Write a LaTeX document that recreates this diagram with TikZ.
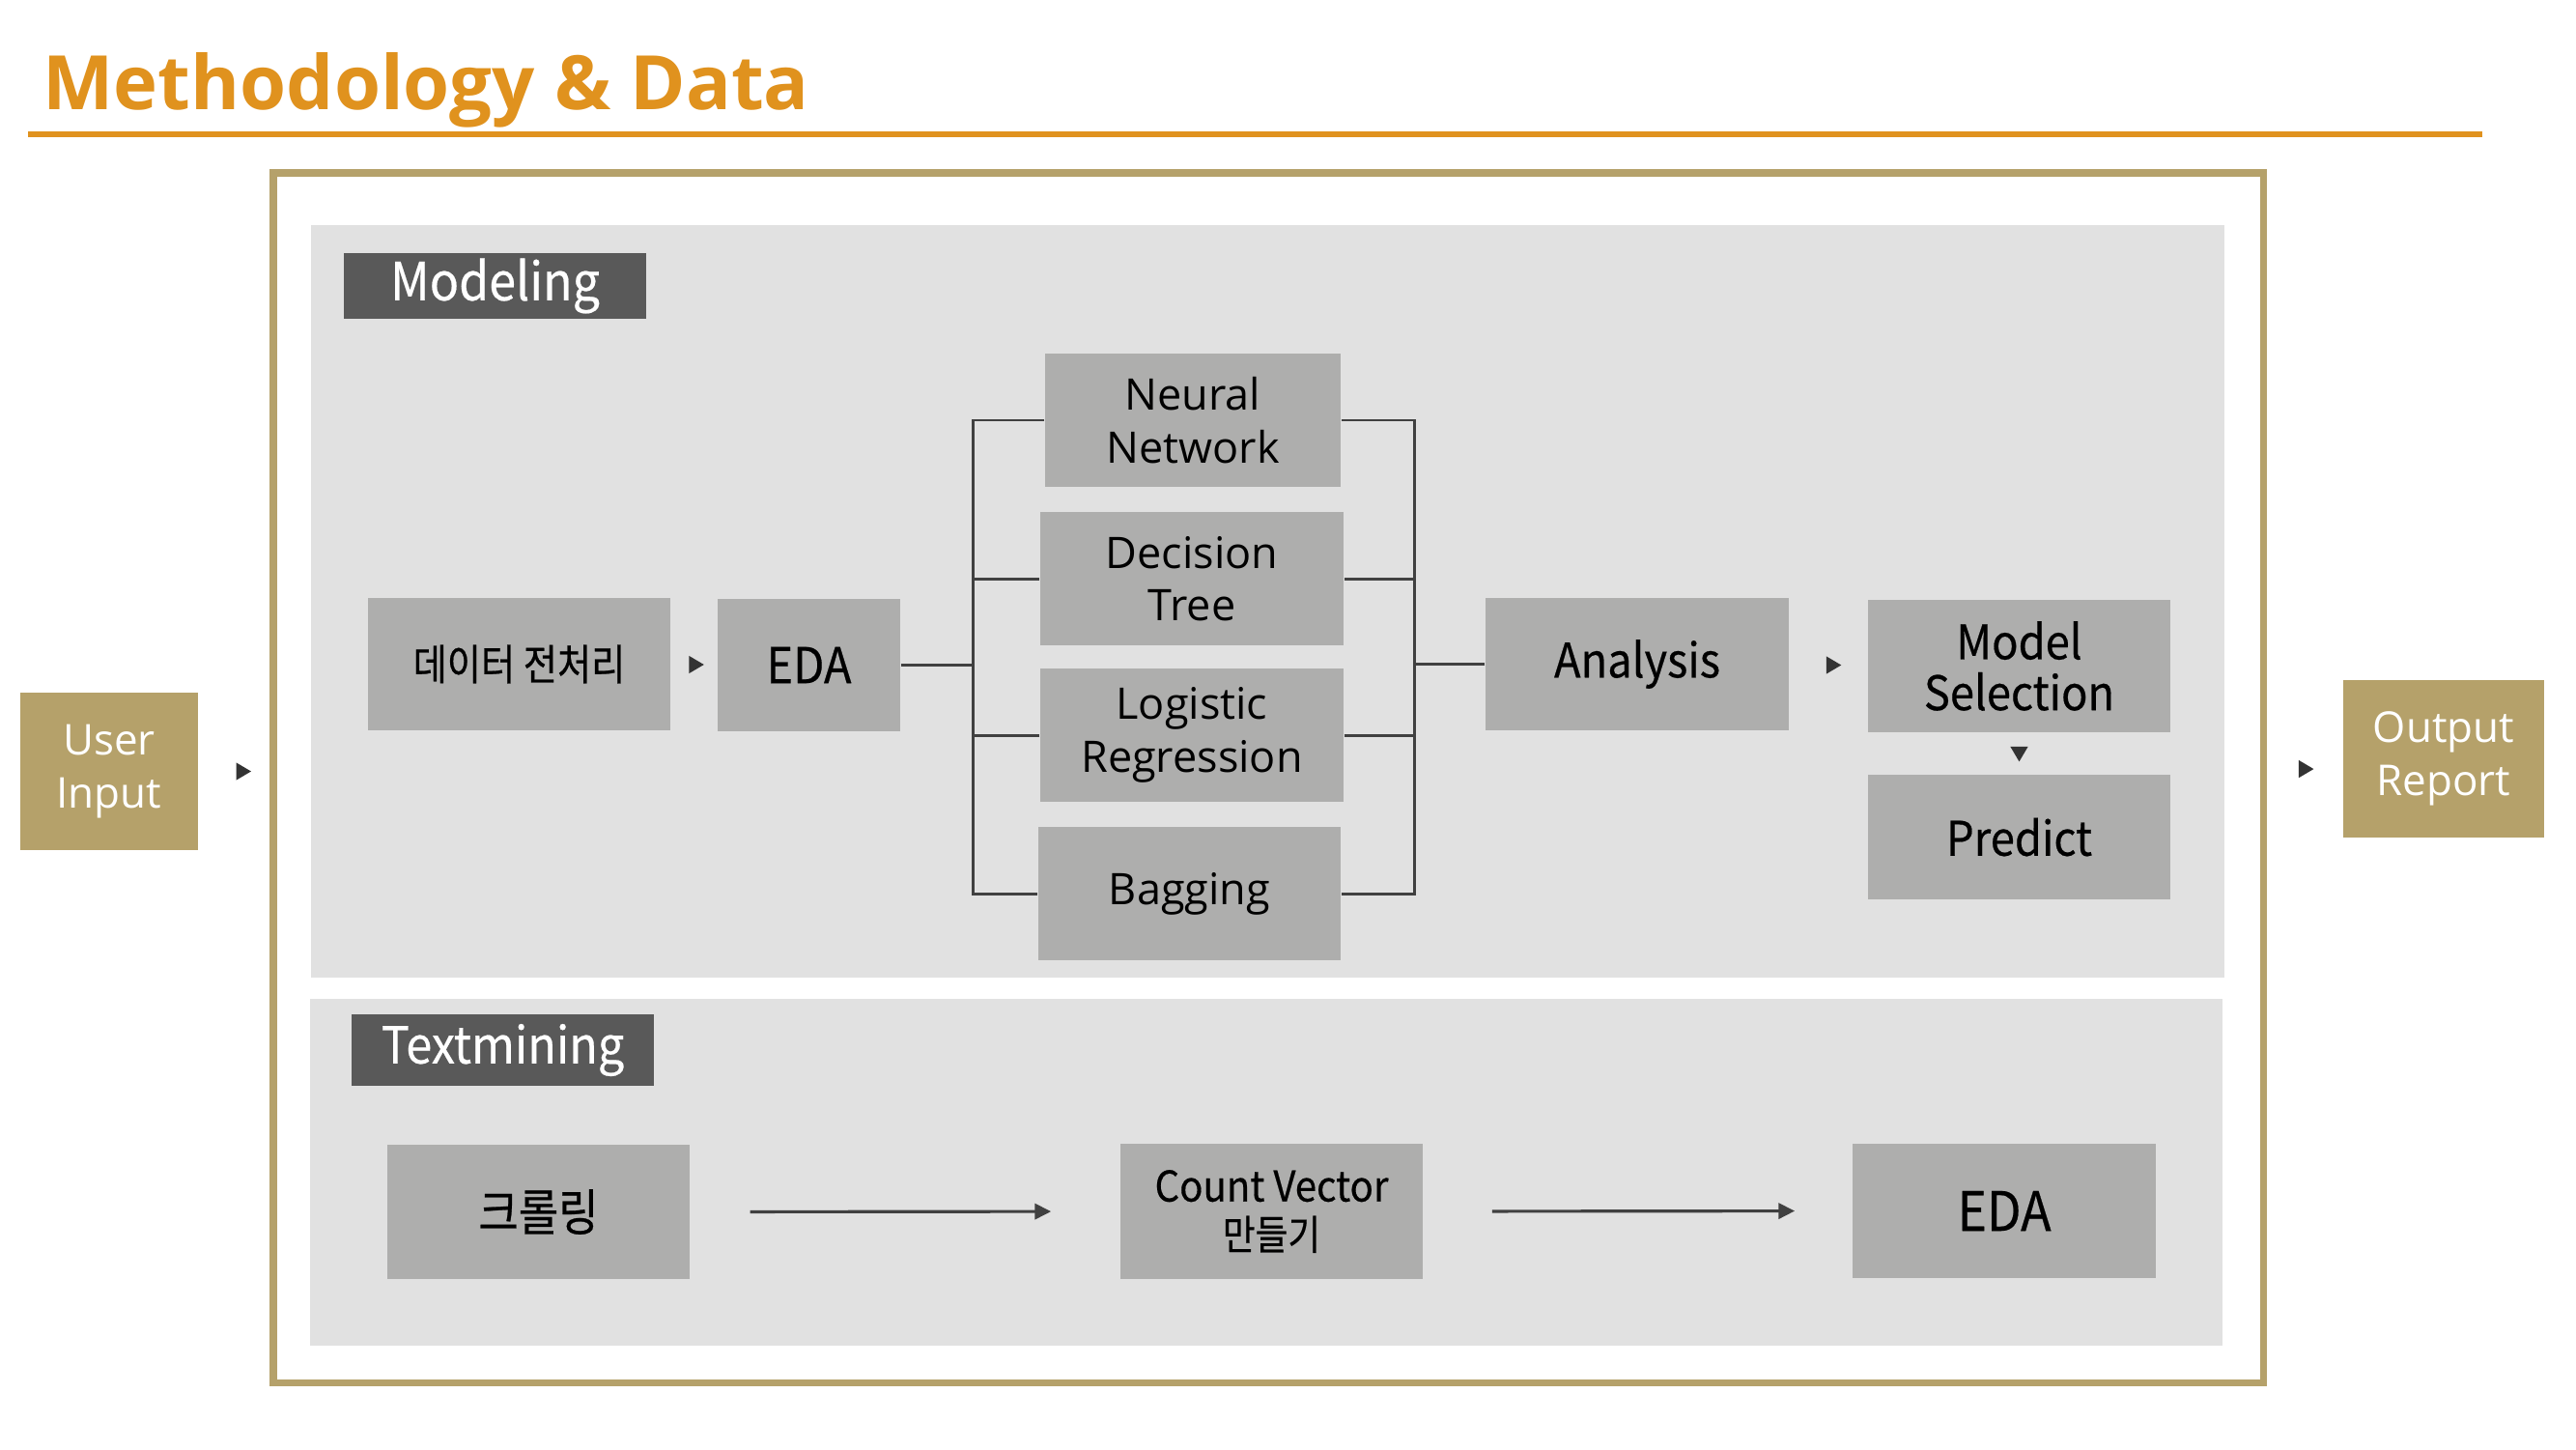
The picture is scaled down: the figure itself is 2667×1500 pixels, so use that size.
\documentclass[tikz,border=0pt]{standalone}
\usepackage{fontspec}
\setmainfont{Open Sans}
\newfontfamily\nsk[FakeStretch=0.92,FakeBold=0.4]{Noto Sans CJK KR}
\newfontfamily\kr[FakeStretch=0.87,FakeBold=0.5]{Noto Sans CJK KR}
\usetikzlibrary{arrows.meta,shapes.geometric,calc}
\definecolor{titleorange}{RGB}{224,146,30}
\definecolor{tan}{RGB}{181,161,106}
\definecolor{panelgray}{RGB}{225,225,225}
\definecolor{boxgray}{RGB}{174,174,173}
\definecolor{labeldark}{RGB}{89,89,89}
\definecolor{linegray}{RGB}{64,64,64}
\definecolor{trigray}{RGB}{51,51,51}
\tikzset{
  panel/.style={fill=panelgray, inner sep=0pt},
  grbox/.style={fill=boxgray, inner sep=0pt, align=center, text=black},
  tanbox/.style={fill=tan, inner sep=0pt, align=center, text=white,
    font=\fontsize{12.5}{15.6}\selectfont},
  label/.style={fill=labeldark, inner sep=0pt, text=white},
  wide/.style={font=\fontsize{12.8}{15.5}\selectfont},
  narrow/.style={font=\nsk\fontsize{14}{15}\selectfont},
  conn/.style={draw=linegray, line width=0.85pt},
  arr/.style={draw=linegray, line width=0.9pt, -{Triangle[length=4.8pt,width=4.6pt]}},
  tri/.style={isosceles triangle, isosceles triangle stretches, fill=trigray,
    inner sep=0pt, minimum height=4.4pt, minimum width=5.2pt}
}
\begin{document}
\begin{tikzpicture}[x=0.01cm,y=-0.01cm]
\useasboundingbox[fill=white] (0,0) rectangle (2667,1500);
% title
\node[anchor=base west, inner sep=0pt, text=titleorange,
  font=\bfseries\fontsize{22.1}{26}\selectfont] (title) at (44,114) {Methodology \& Data};
\coordinate (ulA) at (29,139);
\coordinate (ulB) at (2570,139);
\draw[titleorange, line width=1.45pt] (ulA) -- (ulB);
% frame
\draw[tan, line width=2pt] (283,179) rectangle (2343,1431);
% panels
\node[panel, minimum width=19.79cm, minimum height=7.79cm] (pmod) at (1312.5,622.5) {};
\node[panel, minimum width=19.78cm, minimum height=3.59cm] (ptxt) at (1311,1213.5) {};
\node[label, minimum width=3.13cm, minimum height=0.68cm,
  font=\nsk\fontsize{15.5}{18}\selectfont] (lmod) at (512.5,296) {Modeling};
\node[label, minimum width=3.13cm, minimum height=0.74cm,
  font=\nsk\fontsize{15}{18}\selectfont] (ltxt) at (520.5,1087) {Textmining};
% outside boxes
\node[tanbox, minimum width=1.84cm, minimum height=1.63cm] (user) at (113,798.5) {User\\Input};
\node[tanbox, minimum width=2.08cm, minimum height=1.63cm] (out) at (2530,785.5) {Output\\Report};
\node[tri] (t0) at ([xshift=12.5pt]user.east) {};
\node[tri] (t4) at ([xshift=-11.4pt,yshift=-3pt]out.west) {};
% modeling boxes
\node[grbox, minimum width=3.13cm, minimum height=1.37cm,
  font=\kr\fontsize{12.5}{14}\selectfont] (prep) at (537.5,687.5) {데이터 전처리};
\node[grbox, minimum width=1.89cm, minimum height=1.37cm,
  font=\nsk\fontsize{14.5}{16}\selectfont] (eda1) at (837.5,688.5) {EDA};
\node[grbox, wide, minimum width=3.06cm, minimum height=1.38cm] (nn) at (1235,435) {Neural\\Network};
\node[grbox, wide, minimum width=3.14cm, minimum height=1.38cm] (dt) at (1234,599) {Decision\\Tree};
\node[grbox, wide, minimum width=3.14cm, minimum height=1.38cm] (lr) at (1234,761) {Logistic\\Regression};
\node[grbox, wide, minimum width=3.13cm, minimum height=1.38cm] (bag) at (1231.5,925) {Bagging};
\node[grbox, narrow, minimum width=3.14cm, minimum height=1.37cm] (ana) at (1695,687.5) {Analysis};
\node[grbox, narrow, minimum width=3.13cm, minimum height=1.37cm] (msel) at (2090.5,689.5) {Model\\Selection};
\node[grbox, narrow, minimum width=3.13cm, minimum height=1.28cm] (pred) at (2090.5,866.5) {Predict};
% small triangles
\node[tri] (t1) at ($(prep.east)!0.5!(eda1.west)$) {};
\node[tri] (t2) at ($(ana.east)!0.5!(msel.west)+(3,0)$) {};
\node[tri, shape border rotate=270] (t3) at ($(msel.south)!0.45!(pred.north)$) {};
% brackets
\coordinate (bl) at (1007,689);
\coordinate (br) at (1464,690);
\draw[conn] (eda1.east) -- (eda1.east -| bl);
\draw[conn] (nn.west) -- (nn.west -| bl) |- (bag.west);
\draw[conn] (dt.west) -- (dt.west -| bl);
\draw[conn] (lr.west) -- (lr.west -| bl);
\draw[conn] (nn.east) -- (nn.east -| br) |- (bag.east);
\draw[conn] (dt.east) -- (dt.east -| br);
\draw[conn] (lr.east) -- (lr.east -| br);
\draw[conn] (ana.west) -- (ana.west -| br);
% textmining boxes
\node[grbox, minimum width=3.13cm, minimum height=1.39cm,
  font=\kr\fontsize{14.7}{16}\selectfont] (crawl) at (557.5,1254.5) {크롤링};
\node[grbox, minimum width=3.13cm, minimum height=1.40cm,
  font=\nsk\fontsize{12.4}{14.2}\selectfont] (cv) at (1316.5,1254) {Count Vector\\{\kr\fontsize{12}{14.2}\selectfont 만들기}};
\node[grbox, minimum width=3.14cm, minimum height=1.39cm,
  font=\nsk\fontsize{16}{18}\selectfont] (eda2) at (2075,1253.5) {EDA};
\draw[arr, shorten <=17.6pt, shorten >=20.2pt] (crawl.east) -- (cv.west);
\draw[arr, shorten <=20.2pt, shorten >=16.8pt] (cv.east) -- (eda2.west);
\end{tikzpicture}
\end{document}
